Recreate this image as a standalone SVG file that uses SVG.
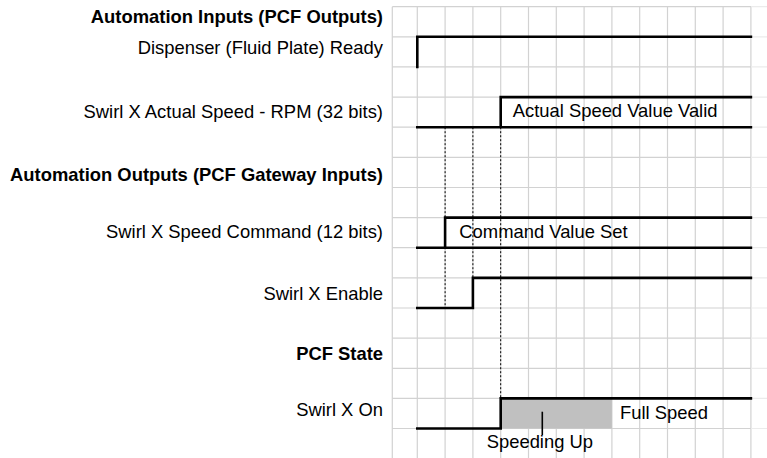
<svg xmlns="http://www.w3.org/2000/svg" width="767" height="458" viewBox="0 0 767 458">
<style>
.g{stroke:#d2d2d2;stroke-width:1.2;fill:none}
.gf{stroke:#ebebeb;stroke-width:1.2;fill:none}
.s{stroke:#000;stroke-width:2.6;fill:none;stroke-linecap:square}
.d{stroke:#000;stroke-width:1;stroke-dasharray:2 2;fill:none}
.l{font-family:"Liberation Sans",Arial,sans-serif;font-size:18.4px;fill:#000}
.r{text-anchor:end}
.b{font-weight:bold}
</style>
<rect width="767" height="458" fill="#fff"/>
<g id="grid">
<path class="g" d="M392.3 6.7V458M417.3 6.7V458M445.1 6.7V458M472.9 6.7V458M500.7 6.7V458M528.5 6.7V458M556.3 6.7V458M584.1 6.7V458M611.9 6.7V458M639.7 6.7V458M667.5 6.7V458M695.3 6.7V458M723.1 6.7V458M750.9 6.7V458"/>
<path class="g" d="M392.3 6.7H751M392.3 36.8H751M392.3 66.9H751M392.3 97.1H751M392.3 127.2H751M392.3 157.3H751M392.3 187.5H751M392.3 217.6H751M392.3 247.7H751M392.3 277.9H751M392.3 308H751M392.3 338.1H751M392.3 368.3H751M392.3 398.4H751M392.3 428.5H751"/>
<path class="gf" d="M751 6.7H767M751 36.8H767M751 66.9H767M751 97.1H767M751 127.2H767M751 157.3H767M751 187.5H767M751 217.6H767M751 247.7H767M751 277.9H767M751 308H767M751 338.1H767M751 368.3H767M751 398.4H767M751 428.5H767"/>
</g>
<g id="labels">
<text class="l r b" x="383" y="22.5">Automation Inputs (PCF Outputs)</text>
<text class="l r" x="383" y="54">Dispenser (Fluid Plate) Ready</text>
<text class="l r" x="383" y="118">Swirl X Actual Speed - RPM (32 bits)</text>
<text class="l r b" x="383" y="181">Automation Outputs (PCF Gateway Inputs)</text>
<text class="l r" x="383" y="238">Swirl X Speed Command (12 bits)</text>
<text class="l r" x="383" y="299.5">Swirl X Enable</text>
<text class="l r b" x="383" y="359.5">PCF State</text>
<text class="l r" x="383" y="415.5">Swirl X On</text>
</g>
<g id="connectors">
<path class="d" d="M445.1 127.2V308M472.9 127.2V277.9M500.7 127.2V398.4"/>
</g>
<g id="dispenser-ready">
<path class="s" d="M417.3 66.9V36.8H750.9"/>
</g>
<g id="actual-speed">
<path class="s" d="M417.3 127.2H750.9M500.7 127.2V97.1H750.9"/>
<text class="l" x="512.7" y="117.3">Actual Speed Value Valid</text>
</g>
<g id="speed-command">
<path class="s" d="M417.3 247.7H750.9M445.1 247.7V217.6H750.9"/>
<text class="l" x="459.3" y="238.3">Command Value Set</text>
</g>
<g id="enable">
<path class="s" d="M417.3 308H472.9V277.9H750.9"/>
</g>
<g id="swirl-on">
<rect x="500.7" y="398.4" width="111.2" height="30.1" fill="#c0c0c0"/>
<path class="s" d="M417.3 428.5H500.7V398.4H750.9"/>
<path stroke="#000" stroke-width="1.6" d="M542.3 411.7V435"/>
<text class="l" x="620" y="419.3">Full Speed</text>
<text class="l" x="486.7" y="447.7">Speeding Up</text>
</g>
</svg>
